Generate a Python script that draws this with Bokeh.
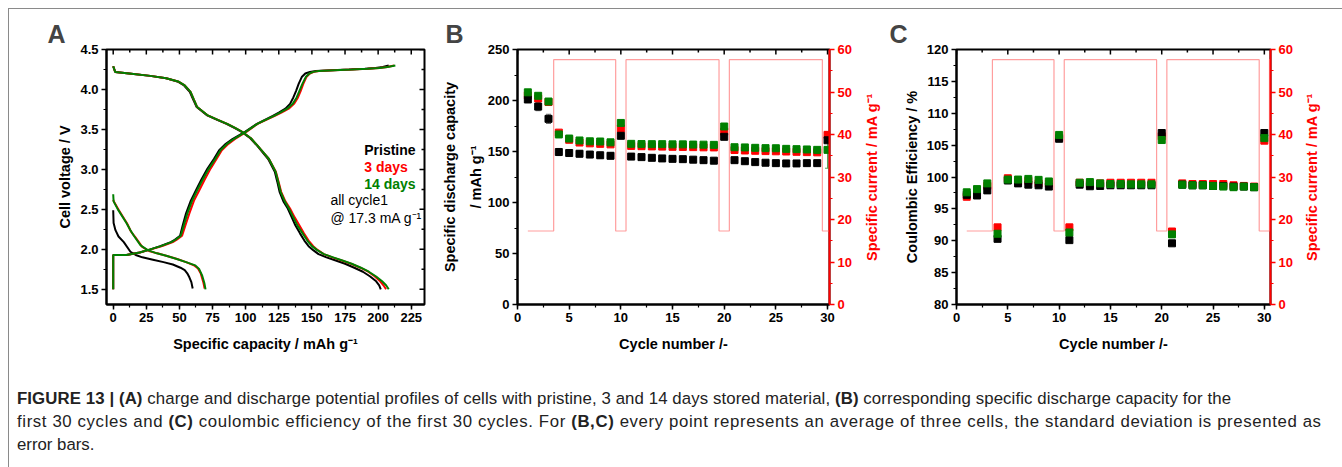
import math
from bokeh.plotting import figure
from bokeh.models import (LinearAxis, Range1d, SingleIntervalTicker, FixedTicker, Label, Div,
                          ColumnDataSource, Whisker, TeeHead, NumeralTickFormatter)
from bokeh.layouts import row, column
from bokeh.embed import file_html
from bokeh.resources import INLINE

FONT = "Liberation Sans"
BLACK, RED, GREEN, STEP = "#000000", "#ff0000", "#008000", "#ff9e9e"

# ---------------- Panel A data (voltage profiles, cycle 1) ----------------
a_d0_cap_pristine = [0, 0.3, 1.7, 4, 8, 13, 17, 22, 30, 38, 45, 50.8, 54, 55.9, 57.5, 59, 60]
a_d0_v_pristine = [2.49, 2.33, 2.24, 2.16, 2.09, 1.97, 1.93, 1.90, 1.87, 1.84, 1.81, 1.77, 1.74, 1.70, 1.65, 1.59, 1.51]
a_d0_cap_3d = [0, 0.5, 4.3, 10.6, 13.5, 16.8, 21.9, 27, 33.2, 40, 48.3, 55, 60.9, 64, 66, 68, 69]
a_d0_v_3d = [2.62, 2.60, 2.49, 2.32, 2.22, 2.15, 2.03, 1.98, 1.95, 1.92, 1.88, 1.84, 1.80, 1.76, 1.70, 1.59, 1.51]
a_d0_cap_14d = [0, 0.3, 3.5, 10, 13, 15.6, 20.7, 26, 33, 40, 48, 55, 62, 65, 67.2, 68.8, 69.7]
a_d0_v_14d = [2.69, 2.60, 2.50, 2.33, 2.24, 2.17, 2.05, 1.99, 1.95, 1.92, 1.88, 1.84, 1.80, 1.75, 1.67, 1.58, 1.50]

a_ch_v = [1.50, 1.93, 1.93, 1.96, 2.00, 2.04, 2.09, 2.12, 2.17, 2.30, 2.45, 2.61, 2.74, 2.87,
          3.01, 3.13, 3.24, 3.32, 3.38, 3.47, 3.57, 3.62, 3.67, 3.71, 3.76, 3.82, 3.90, 3.98,
          4.07, 4.16, 4.20, 4.22, 4.23, 4.24, 4.25, 4.26, 4.27, 4.28, 4.30]
a_ch_cap_pristine = [0, 0, 10, 20, 28, 35.5, 43.5, 46.5, 50.5, 52.5, 55, 58.6, 62.5, 66.5, 71.2,
                     76, 80, 85, 90, 99.5, 108.5, 114.5, 120.5, 125, 130, 133.5, 136, 138, 140,
                     142.5, 145, 148.5, 153, 165, 178, 190, 198, 203.5, 208]
a_ch_cap_3d = [0, 0, 10, 20, 28.5, 37, 45, 48, 52, 54.5, 57.5, 61, 65, 69, 73.5, 78, 82, 87, 92,
               100.5, 109, 115.5, 122, 127, 132.5, 136.5, 139.5, 141.5, 143.5, 146, 148.5, 151.5,
               155.5, 167, 180, 192, 201, 207, 212]
a_ch_cap_14d = [0, 0, 10, 20, 28, 36, 44, 47, 51, 53.3, 56, 59.6, 63.4, 67.5, 72.2, 77, 81, 86,
                91, 100, 108.8, 115, 121.4, 126, 131.4, 135.5, 138.5, 140.5, 142.8, 145.5, 148,
                151, 155, 167, 180, 192, 201, 207, 213]

a_dc_v = [4.29, 4.22, 4.20, 4.17, 4.14, 4.10, 4.05, 3.97, 3.87, 3.78, 3.68, 3.62, 3.57, 3.52,
          3.47, 3.39, 3.30, 3.22, 3.13, 2.97, 2.85, 2.72, 2.60, 2.51, 2.40, 2.30, 2.20, 2.11,
          2.04, 1.99, 1.94, 1.90, 1.86, 1.82, 1.77, 1.72, 1.66, 1.60, 1.55, 1.50]
a_dc_cap_pristine = [0, 1.5, 12, 28, 40, 48.5, 53.5, 57.8, 60.5, 63, 70.5, 78.5, 85.5, 91.5, 97,
                     103.5, 108.5, 112.5, 117, 122, 123.8, 125.6, 128.5, 131.8, 134.8, 137.5,
                     141, 144.3, 147.5, 151, 155, 161, 168, 175, 182, 188.5, 194, 198.5, 200.8, 202]
a_dc_cap_3d = [0, 1.5, 12, 28, 40, 49, 54, 58.4, 61, 63.4, 71, 79, 86.1, 92, 97.4, 104, 108.8,
               113, 117.6, 122.8, 124.8, 126.8, 130, 133.5, 137, 140.5, 144, 147.5, 151, 154.5,
               159, 165.5, 172.5, 179.5, 186.5, 192.5, 197.5, 201.5, 204, 206]
a_dc_cap_14d = [0, 1.5, 12, 28, 40, 49, 54, 58.4, 61, 63.4, 71, 79, 86.1, 92, 97.4, 104, 108.8,
                113, 117.6, 122.6, 124.5, 126.4, 129.5, 132.7, 136, 139, 143, 146.5, 150, 154,
                159, 166, 173, 180, 187, 193, 198.5, 203, 206, 208]

# tick positions (for the inward ticks on the mirrored frame sides)
a_x_major = [0, 25, 50, 75, 100, 125, 150, 175, 200, 225]
a_x_minor = [12.5, 37.5, 62.5, 87.5, 112.5, 137.5, 162.5, 187.5, 212.5]
a_y_major = [1.5, 2.0, 2.5, 3.0, 3.5, 4.0, 4.5]
a_y_minor = [1.75, 2.25, 2.75, 3.25, 3.75, 4.25]
bc_x_major = [0, 5, 10, 15, 20, 25, 30]
bc_x_minor = [2.5, 7.5, 12.5, 17.5, 22.5, 27.5]

# ---------------- Panels B / C data ----------------
cycles = list(range(1, 32))
current = [17.3] * 3 + [57.6] * 6 + [17.3] + [57.6] * 9 + [17.3] + [57.6] * 9 + [17.3] + [57.6]

b_cycles = list(range(1, 31))
b_pristine = [201, 194, 182, 149.5, 148.5, 147.8, 147, 146.3, 145.8, 165.4, 145, 144.5, 143.8,
              143.2, 142.8, 142.5, 142, 141.5, 141, 164.4, 141.5, 140.5, 139.6, 139, 138.6,
              138.3, 138.3, 138.6, 138.6, 161]
b_pristine_err = [3, 4, 4.5, 3.5, 3, 3, 3, 3, 3, 3, 2.5, 2.5, 2.5, 2.5, 2.5, 2.5, 2.5, 2.5, 2.5,
                  2, 2, 2, 2, 2, 2, 2, 2, 2, 2, 2]
b_3d = [205, 202, 198.5, 168.5, 161.5, 158.8, 158, 157.5, 157, 172.5, 155.5, 155.2, 155, 154.8,
        154.6, 154.5, 154.3, 154.1, 154, 169.5, 151.5, 151, 150.7, 150.4, 150.2, 150, 149.7,
        149.4, 149.2, 166.3]
b_14d = [208, 204.6, 199, 166.7, 162.7, 160.8, 160, 159.8, 159, 178, 157.5, 157.3, 157.2, 157.2,
         157, 157, 156.8, 156.7, 156.5, 174.5, 154.2, 154, 153.6, 153.3, 153.2, 152.6, 152.3,
         152, 151.6, 151.6]
b_14d_err = [1] * 29 + [18]

c_pristine = [97.2, 97.1, 97.9, 90.3, 99.45, 99.0, 98.8, 98.7, 98.5, 106.0, 90.1, 98.8, 98.55,
              98.6, 98.7, 98.7, 98.7, 98.7, 98.7, 106.9, 89.6, 98.8, 98.7, 98.7, 98.6, 98.6,
              98.5, 98.5, 98.4, 106.9, 88.8]
c_3d = [96.9, 97.6, 98.6, 92.1, 99.8, 99.3, 99.4, 99.0, 99.0, 106.2, 92.1, 99.1, 98.9, 99.0,
        99.1, 99.1, 99.1, 99.1, 99.1, 106.4, 91.45, 99.0, 98.9, 98.9, 98.9, 98.9, 98.7, 98.6,
        98.5, 105.7, 90.5]
c_14d = [97.6, 98.1, 99.0, 91.1, 99.6, 99.6, 99.7, 99.55, 99.3, 106.6, 91.3, 99.1, 99.2, 99.0,
         98.9, 98.9, 98.85, 98.85, 98.85, 105.8, 91.0, 98.8, 98.7, 98.7, 98.6, 98.5, 98.4, 98.5,
         98.4, 106.1, 90.0]

caption_line1 = ("<b>FIGURE 13 | (A)</b> charge and discharge potential profiles of cells with pristine, "
                 "3 and 14 days stored material, <b>(B)</b> corresponding specific discharge capacity for the")
caption_line2 = ("first 30 cycles and <b>(C)</b> coulombic efficiency of the first 30 cycles. For <b>(B,C)</b> "
                 "every point represents an average of three cells, the standard deviation is presented as")
caption_line3 = "error bars."
current_title = "Specific current / mA g⁻¹"


# ---------------- helpers ----------------
def style_axis(ax, color=BLACK):
    ax.axis_line_width = 2
    ax.axis_line_color = color
    ax.major_tick_line_color = color
    ax.minor_tick_line_color = color
    ax.major_tick_line_width = 1.5
    ax.minor_tick_line_width = 1.2
    ax.major_tick_in, ax.major_tick_out = 0, 5
    ax.minor_tick_in, ax.minor_tick_out = 0, 3
    ax.major_label_text_font = FONT
    ax.major_label_text_font_style = "bold"
    ax.major_label_text_font_size = "13px"
    ax.major_label_text_color = color
    ax.major_label_standoff = 3
    ax.axis_label_text_font = FONT
    ax.axis_label_text_font_style = "bold"
    ax.axis_label_text_font_size = "14.5px"
    ax.axis_label_text_color = color
    ax.axis_label_standoff = 4


def make_fig(width, left, right, xr, yr, letter, offset):
    p = figure(width=width, height=360, x_range=xr, y_range=yr, output_backend="svg",
               toolbar_location=None, x_axis_type=None, y_axis_type=None,
               min_border_left=left, min_border_right=right, min_border_top=40,
               min_border_bottom=65)
    p.grid.visible = False
    p.outline_line_color = BLACK
    p.outline_line_width = 2
    p.background_fill_color = "white"
    p.border_fill_color = "white"
    p.title.text = letter
    p.title.text_font = FONT
    p.title.text_font_size = "25px"
    p.title.text_font_style = "bold"
    p.title.offset = offset
    p.title.standoff = 3
    return p


def title_strip(width, standoff):
    """Narrow strip whose left-axis label carries the red right-hand axis title
    (a left-side axis label reads bottom-to-top, as in the reference)."""
    s = figure(width=width, height=360, x_range=Range1d(0, 1), y_range=Range1d(0, 1),
               output_backend="svg", toolbar_location=None, x_axis_type=None, y_axis_type=None,
               min_border_left=width - 1, min_border_right=0, min_border_top=40,
               min_border_bottom=65)
    s.grid.visible = False
    s.outline_line_color = None
    s.background_fill_color = "white"
    s.border_fill_color = "white"
    ax = LinearAxis(ticker=FixedTicker(ticks=[]), axis_label=current_title)
    style_axis(ax, color=RED)
    ax.axis_line_color = None
    ax.major_tick_line_color = None
    ax.minor_tick_line_color = None
    ax.major_tick_out = 0
    ax.minor_tick_out = 0
    ax.major_label_standoff = 0
    ax.axis_label_standoff = standoff
    s.add_layout(ax, "left")
    return s


def inward_ticks(p, positions, fixed, size, vertical):
    if vertical:   # ticks hanging from the top edge
        p.scatter(positions, [fixed] * len(positions), marker="dash", angle=math.pi / 2,
                  size=size, line_color=BLACK, line_width=1.5)
    else:          # ticks pointing left from the right edge
        p.scatter([fixed] * len(positions), positions, marker="dash", angle=0,
                  size=size, line_color=BLACK, line_width=1.5)


def add_axes(p, xint, yint, xlabel, ylabel, yfmt=None):
    bx = LinearAxis(ticker=SingleIntervalTicker(interval=xint, num_minor_ticks=2), axis_label=xlabel)
    style_axis(bx)
    bx.axis_label_standoff = 11
    p.add_layout(bx, "below")
    ly = LinearAxis(ticker=SingleIntervalTicker(interval=yint, num_minor_ticks=2), axis_label=ylabel)
    style_axis(ly)
    if yfmt:
        ly.formatter = NumeralTickFormatter(format=yfmt)
    p.add_layout(ly, "left")
    return ly


def add_current_axis(p):
    p.extra_y_ranges = {"cur": Range1d(0, 60)}
    ax = LinearAxis(y_range_name="cur", ticker=SingleIntervalTicker(interval=10, num_minor_ticks=2))
    style_axis(ax, color=RED)
    p.add_layout(ax, "right")
    p.step(cycles, current, mode="center", y_range_name="cur", line_color=STEP, line_width=1.2)


# ---------------- Panel A ----------------
pA = make_fig(430, 97, 15, Range1d(-5.06, 235), Range1d(1.31, 4.5), "A", -59)
add_axes(pA, 25, 0.5, "Specific capacity / mAh g⁻¹", "Cell voltage / V", yfmt="0.0")
for caps, vs, col in [
    (a_d0_cap_pristine, a_d0_v_pristine, BLACK), (a_ch_cap_pristine, a_ch_v, BLACK),
    (a_dc_cap_pristine, a_dc_v, BLACK),
    (a_d0_cap_3d, a_d0_v_3d, RED), (a_ch_cap_3d, a_ch_v, RED), (a_dc_cap_3d, a_dc_v, RED),
    (a_d0_cap_14d, a_d0_v_14d, GREEN), (a_ch_cap_14d, a_ch_v, GREEN), (a_dc_cap_14d, a_dc_v, GREEN),
]:
    pA.line(caps, vs, line_color=col, line_width=2)
inward_ticks(pA, a_x_major, 4.5, 10, True)
inward_ticks(pA, a_x_minor, 4.5, 6, True)
inward_ticks(pA, a_y_major, 235, 10, False)
inward_ticks(pA, a_y_minor, 235, 6, False)

for txt, x, y, col, style in [("Pristine", 189.5, 3.24, BLACK, "bold"),
                              ("3 days", 189.5, 3.03, RED, "bold"),
                              ("14 days", 189.5, 2.82, GREEN, "bold"),
                              ("all cycle1", 164, 2.62, BLACK, "normal"),
                              ("@ 17.3 mA g⁻¹", 164, 2.39, BLACK, "normal")]:
    pA.add_layout(Label(x=x, y=y, text=txt, text_color=col, text_font=FONT,
                        text_font_style=style, text_font_size="14px", text_baseline="middle"))

# ---------------- Panel B ----------------
pB = make_fig(421, 76, 31, Range1d(0, 30.19), Range1d(0, 250), "B", -72)
lyB = add_axes(pB, 5, 50, "Cycle number /-", "Specific discharge capacity\n/ mAh g⁻¹")
lyB.axis_label_text_line_height = 1.6
lyB.axis_label_standoff = 1
add_current_axis(pB)
inward_ticks(pB, bc_x_major, 250, 10, True)
inward_ticks(pB, bc_x_minor, 250, 6, True)

src_bk = ColumnDataSource(dict(x=b_cycles,
                               lo=[v - e for v, e in zip(b_pristine, b_pristine_err)],
                               hi=[v + e for v, e in zip(b_pristine, b_pristine_err)]))
src_gr = ColumnDataSource(dict(x=b_cycles,
                               lo=[v - e for v, e in zip(b_14d, b_14d_err)],
                               hi=[v + e for v, e in zip(b_14d, b_14d_err)]))
for src, col in [(src_bk, "#666666"), (src_gr, "#55a055")]:
    w = Whisker(source=src, base="x", lower="lo", upper="hi", line_color=col, line_width=1,
                upper_head=TeeHead(size=5, line_color=col, line_width=1),
                lower_head=TeeHead(size=5, line_color=col, line_width=1))
    pB.add_layout(w)

pB.scatter(b_cycles, b_3d, marker="square", size=7, color=RED)
pB.scatter(b_cycles, b_pristine, marker="square", size=7, color=BLACK)
pB.scatter(b_cycles, b_14d, marker="square", size=7, color=GREEN)
sB = title_strip(28, 9)

# ---------------- Panel C ----------------
pC = make_fig(412, 68, 30, Range1d(0, 30.6), Range1d(80, 120), "C", -67)
add_axes(pC, 5, 5, "Cycle number /-", "Coulombic Efficiency / %")
add_current_axis(pC)
inward_ticks(pC, bc_x_major, 120, 10, True)
inward_ticks(pC, bc_x_minor, 120, 6, True)
pC.scatter(cycles, c_3d, marker="square", size=7, color=RED)
pC.scatter(cycles, c_pristine, marker="square", size=7, color=BLACK)
pC.scatter(cycles, c_14d, marker="square", size=7, color=GREEN)
sC = title_strip(28, 8)

# ---------------- caption ----------------
caption_html = ("<span style='letter-spacing:0.1px'>" + caption_line1 +
                "</span><br><span style='letter-spacing:0.62px'>" + caption_line2 +
                "</span><br>" + caption_line3)
cap = Div(text=caption_html, width=1326, height=90,
          styles={"font-family": "'Liberation Sans', Arial, sans-serif", "font-size": "16.8px",
                  "line-height": "23px", "color": "#222222", "white-space": "nowrap",
                  "padding-top": "13px", "padding-left": "3px", "box-sizing": "border-box"})

layout = column(row(pA, pB, sB, pC, sC), cap,
                styles={"border-top": "1px solid #8a8a8a", "border-left": "1px solid #8a8a8a",
                        "margin-top": "8px", "margin-left": "8px"})

open("out.html", "w").write(file_html(layout, INLINE))
